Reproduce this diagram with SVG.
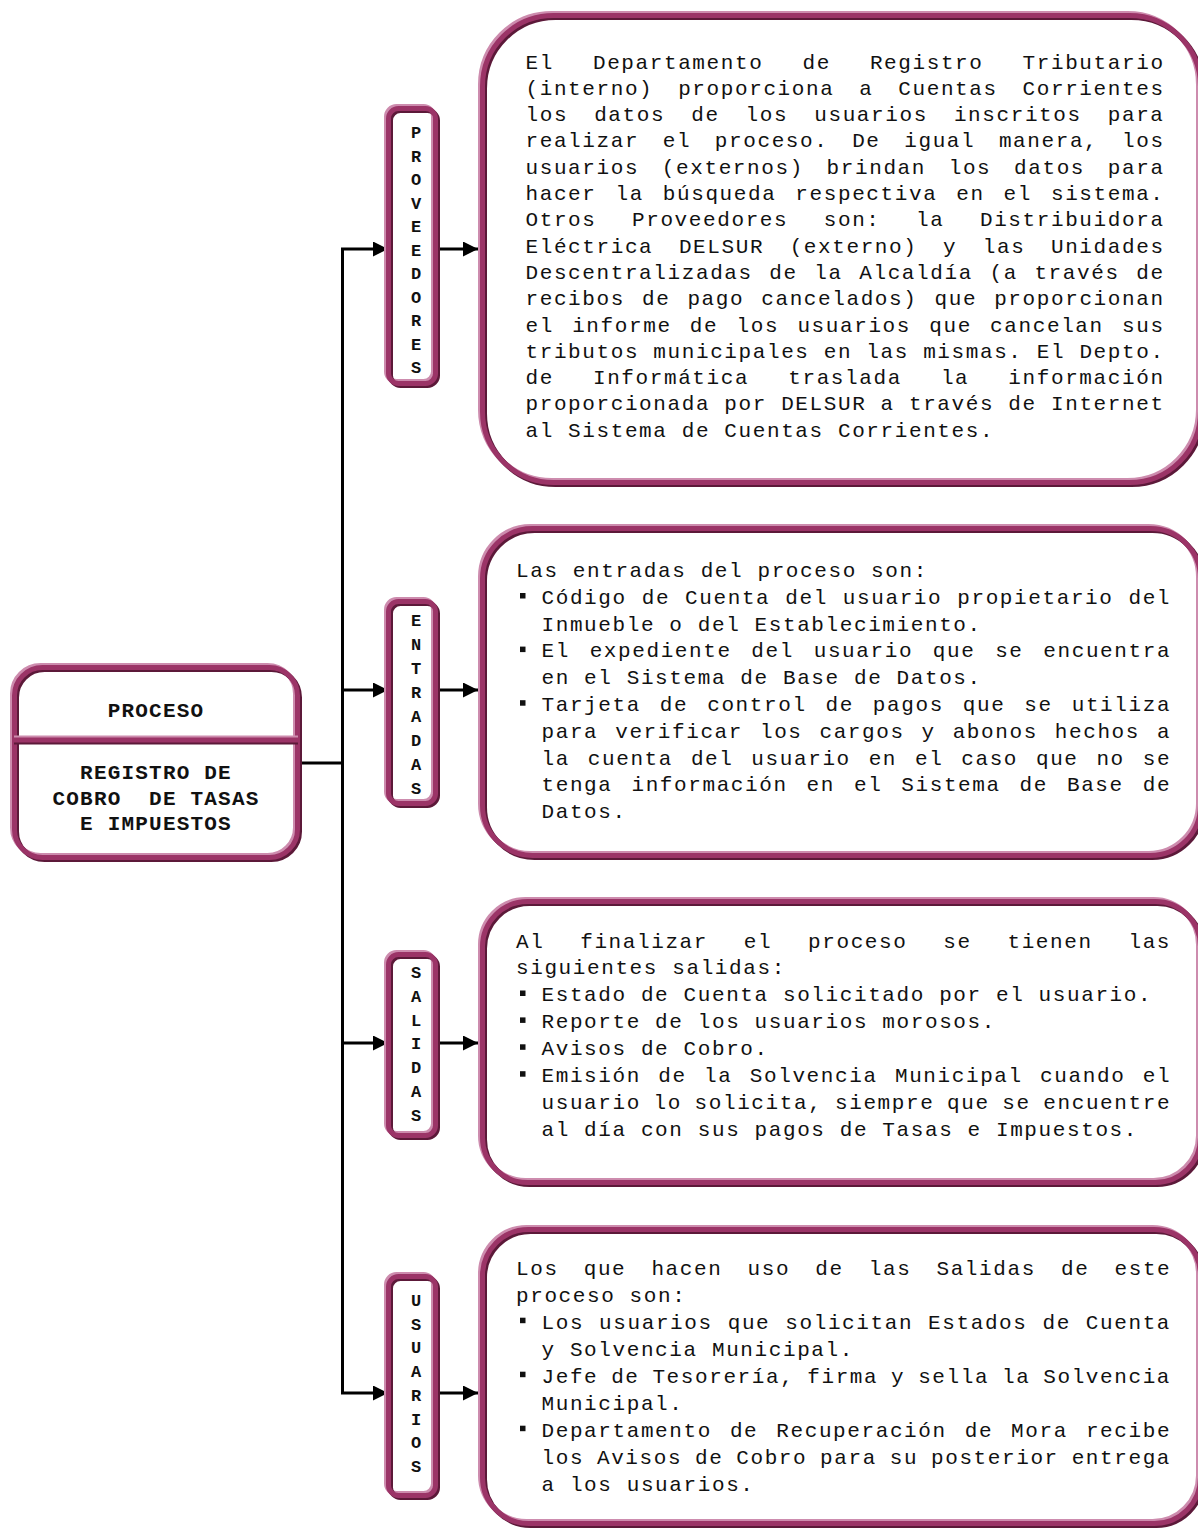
<svg xmlns="http://www.w3.org/2000/svg" xmlns:xlink="http://www.w3.org/1999/xlink" width="1198" height="1530" viewBox="0 0 1198 1530">
  <style>
    .pane { fill: #ffffff; stroke: none; }
    .hi { fill: none; stroke: #cd8cae; stroke-width: 5; }
    .lo { fill: none; stroke: #5c1939; stroke-width: 5; }
    .rim { fill: none; stroke: #9b3467; stroke-width: 5; }
    .body { font-family: "Liberation Mono", "DejaVu Sans Mono", monospace; font-size: 21px; letter-spacing: 1.6px; fill: #111; }
    .head { font-family: "Liberation Mono", "DejaVu Sans Mono", monospace; font-size: 21px; font-weight: bold; letter-spacing: 1.2px; fill: #111; text-anchor: middle; }
    .tag { font-family: "Liberation Mono", "DejaVu Sans Mono", monospace; font-size: 17px; font-weight: bold; fill: #111; text-anchor: middle; }
    .wire { fill: none; stroke: #000; stroke-width: 3; }
    .dot { fill: #111; }
  </style>
  <defs>
    <marker id="ah" markerUnits="userSpaceOnUse" markerWidth="16" markerHeight="16" refX="15" refY="7.5" orient="auto">
      <path d="M0,0 L15,7.5 L0,15 z" fill="#000"/>
    </marker>
    <!-- outlines shared by the fill and the three bevel strokes -->
    <rect id="s-proc" x="14.5" y="667.5" width="283" height="190" rx="28"/>
    <path id="s-split" d="M14,740 H298"/>
    <rect id="s-t1" x="388.5" y="108.5" width="47" height="275" rx="10"/>
    <rect id="s-t2" x="388.5" y="601.5" width="47" height="202" rx="10"/>
    <rect id="s-t3" x="388.5" y="954.5" width="47" height="181" rx="10"/>
    <rect id="s-t4" x="388.5" y="1276.5" width="47" height="219" rx="10"/>
    <rect id="s-b1" x="482.5" y="15.5" width="718" height="467" rx="71"/>
    <rect id="s-b2" x="482.5" y="528.5" width="718" height="327" rx="50"/>
    <rect id="s-b3" x="482.5" y="901.5" width="718" height="281" rx="45"/>
    <rect id="s-b4" x="482.5" y="1229.5" width="718" height="294" rx="46"/>
  </defs>

  <!-- connectors -->
  <g id="connectors">
    <path class="wire" d="M298,763 H342.5"/>
    <path class="wire" d="M342.5,249 V1393"/>
    <path class="wire" d="M341,249 H388" marker-end="url(#ah)"/>
    <path class="wire" d="M440,249 H478" marker-end="url(#ah)"/>
    <path class="wire" d="M341,690 H388" marker-end="url(#ah)"/>
    <path class="wire" d="M440,690 H478" marker-end="url(#ah)"/>
    <path class="wire" d="M341,1043 H388" marker-end="url(#ah)"/>
    <path class="wire" d="M440,1043 H478" marker-end="url(#ah)"/>
    <path class="wire" d="M341,1393 H388" marker-end="url(#ah)"/>
    <path class="wire" d="M440,1393 H478" marker-end="url(#ah)"/>
  </g>

  <!-- process box -->
  <g id="proceso">
    <use href="#s-proc" class="pane"/>
    <use href="#s-proc" class="hi" x="-2" y="-2"/>
    <use href="#s-proc" class="lo" x="2" y="2"/>
    <use href="#s-proc" class="rim"/>
    <use href="#s-split" class="hi" y="-2"/>
    <use href="#s-split" class="lo" y="2"/>
    <use href="#s-split" class="rim"/>
    <text class="head" x="156" y="717">PROCESO</text>
    <text class="head" x="156" y="779">REGISTRO DE</text>
    <text class="head" x="156" y="804.5" xml:space="preserve">COBRO  DE TASAS</text>
    <text class="head" x="156" y="830">E IMPUESTOS</text>
  </g>

  <!-- vertical tags -->
  <g id="tag-proveedores">
    <use href="#s-t1" class="pane"/>
    <use href="#s-t1" class="hi" x="-2" y="-2"/>
    <use href="#s-t1" class="lo" x="2" y="2"/>
    <use href="#s-t1" class="rim"/>
    <text class="tag" x="416" y="138">P<tspan x="416" dy="23.5">R</tspan><tspan x="416" dy="23.5">O</tspan><tspan x="416" dy="23.5">V</tspan><tspan x="416" dy="23.5">E</tspan><tspan x="416" dy="23.5">E</tspan><tspan x="416" dy="23.5">D</tspan><tspan x="416" dy="23.5">O</tspan><tspan x="416" dy="23.5">R</tspan><tspan x="416" dy="23.5">E</tspan><tspan x="416" dy="23.5">S</tspan></text>
  </g>
  <g id="tag-entradas">
    <use href="#s-t2" class="pane"/>
    <use href="#s-t2" class="hi" x="-2" y="-2"/>
    <use href="#s-t2" class="lo" x="2" y="2"/>
    <use href="#s-t2" class="rim"/>
    <text class="tag" x="416" y="626">E<tspan x="416" dy="24">N</tspan><tspan x="416" dy="24">T</tspan><tspan x="416" dy="24">R</tspan><tspan x="416" dy="24">A</tspan><tspan x="416" dy="24">D</tspan><tspan x="416" dy="24">A</tspan><tspan x="416" dy="24">S</tspan></text>
  </g>
  <g id="tag-salidas">
    <use href="#s-t3" class="pane"/>
    <use href="#s-t3" class="hi" x="-2" y="-2"/>
    <use href="#s-t3" class="lo" x="2" y="2"/>
    <use href="#s-t3" class="rim"/>
    <text class="tag" x="416" y="978">S<tspan x="416" dy="23.8">A</tspan><tspan x="416" dy="23.8">L</tspan><tspan x="416" dy="23.8">I</tspan><tspan x="416" dy="23.8">D</tspan><tspan x="416" dy="23.8">A</tspan><tspan x="416" dy="23.8">S</tspan></text>
  </g>
  <g id="tag-usuarios">
    <use href="#s-t4" class="pane"/>
    <use href="#s-t4" class="hi" x="-2" y="-2"/>
    <use href="#s-t4" class="lo" x="2" y="2"/>
    <use href="#s-t4" class="rim"/>
    <text class="tag" x="416" y="1306">U<tspan x="416" dy="23.7">S</tspan><tspan x="416" dy="23.7">U</tspan><tspan x="416" dy="23.7">A</tspan><tspan x="416" dy="23.7">R</tspan><tspan x="416" dy="23.7">I</tspan><tspan x="416" dy="23.7">O</tspan><tspan x="416" dy="23.7">S</tspan></text>
  </g>

  <!-- suppliers description -->
  <g id="box-proveedores">
    <use href="#s-b1" class="pane"/>
    <use href="#s-b1" class="hi" x="-2" y="-2"/>
    <use href="#s-b1" class="lo" x="2" y="2"/>
    <use href="#s-b1" class="rim"/>
    <text class="body" x="525.5" y="68.5" word-spacing="24.85">El Departamento de Registro Tributario</text>
    <text class="body" x="525.5" y="94.8" word-spacing="10.65">(interno) proporciona a Cuentas Corrientes</text>
    <text class="body" x="525.5" y="121.1" word-spacing="11.83">los datos de los usuarios inscritos para</text>
    <text class="body" x="525.5" y="147.4" word-spacing="9.47">realizar el proceso. De igual manera, los</text>
    <text class="body" x="525.5" y="173.7" word-spacing="8.52">usuarios (externos) brindan los datos para</text>
    <text class="body" x="525.5" y="200" word-spacing="4.73">hacer la búsqueda respectiva en el sistema.</text>
    <text class="body" x="525.5" y="226.3" word-spacing="21.3">Otros Proveedores son: la Distribuidora</text>
    <text class="body" x="525.5" y="252.6" word-spacing="11.36">Eléctrica DELSUR (externo) y las Unidades</text>
    <text class="body" x="525.5" y="278.9" word-spacing="2.37">Descentralizadas de la Alcaldía (a través de</text>
    <text class="body" x="525.5" y="305.2" word-spacing="2.84">recibos de pago cancelados) que proporcionan</text>
    <text class="body" x="525.5" y="331.5" word-spacing="4.06">el informe de los usuarios que cancelan sus</text>
    <text class="body" x="525.5" y="357.8">tributos municipales en las mismas. El Depto.</text>
    <text class="body" x="525.5" y="384.1" word-spacing="24.85">de Informática traslada la información</text>
    <text class="body" x="525.5" y="410.4">proporcionada por DELSUR a través de Internet</text>
    <text class="body" x="525.5" y="436.7">al Sistema de Cuentas Corrientes.</text>
  </g>

  <!-- inputs description -->
  <g id="box-entradas">
    <use href="#s-b2" class="pane"/>
    <use href="#s-b2" class="hi" x="-2" y="-2"/>
    <use href="#s-b2" class="lo" x="2" y="2"/>
    <use href="#s-b2" class="rim"/>
    <text class="body" x="516" y="577">Las entradas del proceso son:</text>
    <rect class="dot" x="520" y="593" width="5.5" height="5.5"/>
    <text class="body" x="541.5" y="603.8" word-spacing="0.78">Código de Cuenta del usuario propietario del</text>
    <text class="body" x="541.5" y="630.6">Inmueble o del Establecimiento.</text>
    <rect class="dot" x="520" y="646.6" width="5.5" height="5.5"/>
    <text class="body" x="541.5" y="657.4" word-spacing="5.52">El expediente del usuario que se encuentra</text>
    <text class="body" x="541.5" y="684.2">en el Sistema de Base de Datos.</text>
    <rect class="dot" x="520" y="700.2" width="5.5" height="5.5"/>
    <text class="body" x="541.5" y="711" word-spacing="4.73">Tarjeta de control de pagos que se utiliza</text>
    <text class="body" x="541.5" y="737.8" word-spacing="2.7">para verificar los cargos y abonos hechos a</text>
    <text class="body" x="541.5" y="764.6" word-spacing="3.68">la cuenta del usuario en el caso que no se</text>
    <text class="body" x="541.5" y="791.4" word-spacing="4.73">tenga información en el Sistema de Base de</text>
    <text class="body" x="541.5" y="818.2">Datos.</text>
  </g>

  <!-- outputs description -->
  <g id="box-salidas">
    <use href="#s-b3" class="pane"/>
    <use href="#s-b3" class="hi" x="-2" y="-2"/>
    <use href="#s-b3" class="lo" x="2" y="2"/>
    <use href="#s-b3" class="rim"/>
    <text class="body" x="516" y="947.5" word-spacing="21.6">Al finalizar el proceso se tienen las</text>
    <text class="body" x="516" y="974.4">siguientes salidas:</text>
    <rect class="dot" x="520" y="990.5" width="5.5" height="5.5"/>
    <text class="body" x="541.5" y="1001.3">Estado de Cuenta solicitado por el usuario.</text>
    <rect class="dot" x="520" y="1017.4" width="5.5" height="5.5"/>
    <text class="body" x="541.5" y="1028.2">Reporte de los usuarios morosos.</text>
    <rect class="dot" x="520" y="1044.3" width="5.5" height="5.5"/>
    <text class="body" x="541.5" y="1055.1">Avisos de Cobro.</text>
    <rect class="dot" x="520" y="1071.2" width="5.5" height="5.5"/>
    <text class="body" x="541.5" y="1082" word-spacing="3.15">Emisión de la Solvencia Municipal cuando el</text>
    <text class="body" x="541.5" y="1108.9" word-spacing="-1.58">usuario lo solicita, siempre que se encuentre</text>
    <text class="body" x="541.5" y="1135.8">al día con sus pagos de Tasas e Impuestos.</text>
  </g>

  <!-- users description -->
  <g id="box-usuarios">
    <use href="#s-b4" class="pane"/>
    <use href="#s-b4" class="hi" x="-2" y="-2"/>
    <use href="#s-b4" class="lo" x="2" y="2"/>
    <use href="#s-b4" class="rim"/>
    <text class="body" x="516" y="1274.5" word-spacing="10.9">Los que hacen uso de las Salidas de este</text>
    <text class="body" x="516" y="1301.5">proceso son:</text>
    <rect class="dot" x="520" y="1317.7" width="5.5" height="5.5"/>
    <text class="body" x="541.5" y="1328.5" word-spacing="0.78">Los usuarios que solicitan Estados de Cuenta</text>
    <text class="body" x="541.5" y="1355.5">y Solvencia Municipal.</text>
    <rect class="dot" x="520" y="1371.7" width="5.5" height="5.5"/>
    <text class="body" x="541.5" y="1382.5" word-spacing="-1.36">Jefe de Tesorería, firma y sella la Solvencia</text>
    <text class="body" x="541.5" y="1409.5">Municipal.</text>
    <rect class="dot" x="520" y="1425.7" width="5.5" height="5.5"/>
    <text class="body" x="541.5" y="1436.5" word-spacing="3.78">Departamento de Recuperación de Mora recibe</text>
    <text class="body" x="541.5" y="1463.5" word-spacing="-1.36">los Avisos de Cobro para su posterior entrega</text>
    <text class="body" x="541.5" y="1490.5">a los usuarios.</text>
  </g>
</svg>
